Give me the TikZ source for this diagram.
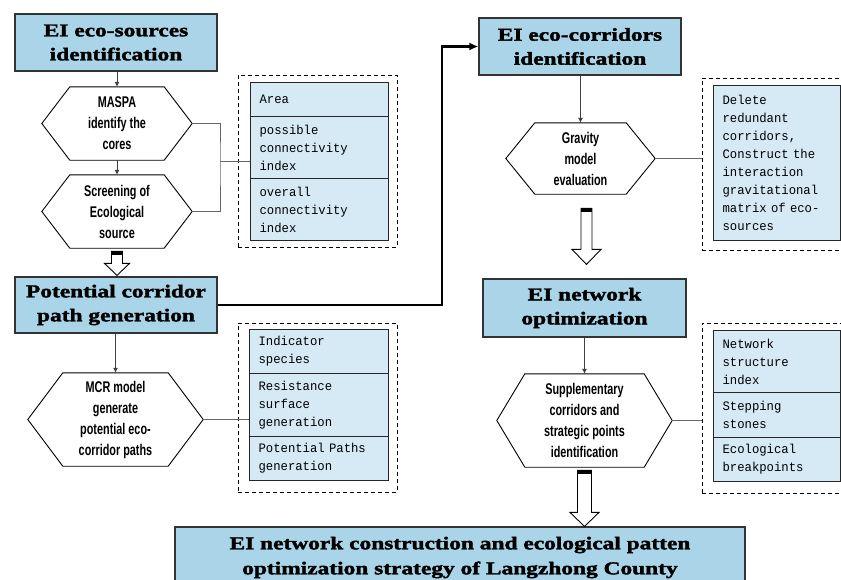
\documentclass[tikz,border=0pt]{standalone}
\usepackage{fontspec}
\setmainfont{Liberation Serif}
\newfontfamily\ttlfont[FakeStretch=1.3,FakeBold=2]{Liberation Serif}
\newfontfamily\hexfont[FakeStretch=0.7]{Liberation Sans}
\newfontfamily\tabfont[FakeStretch=0.95]{Liberation Mono}
\usetikzlibrary{arrows.meta,calc}
\definecolor{titleblue}{RGB}{170,213,233}
\definecolor{cellblue}{RGB}{214,234,246}
\newcommand{\hexat}[6]{%
  \node[hexnode, minimum width=#3pt, minimum height=#4pt] (#1) at #2 {#6};
  \draw[hexline] (#1.west) -- ([xshift=#5pt]#1.north west) -- ([xshift=-#5pt]#1.north east) -- (#1.east)
     -- ([xshift=-#5pt]#1.south east) -- ([xshift=#5pt]#1.south west) -- cycle;}
\newcommand{\hollowarr}[7]{%
  \draw[hollow] let \p1=(#1), \p2=(#2) in
    (\x1-#5pt,\y1-#3pt) -- (\x1+#5pt,\y1-#3pt) -- (\x1+#5pt,\y2+#4pt+#7pt) -- (\x1+#6pt,\y2+#4pt+#7pt)
    -- (\x1,\y2+#4pt) -- (\x1-#6pt,\y2+#4pt+#7pt) -- (\x1-#5pt,\y2+#4pt+#7pt) -- cycle;
  \fill let \p1=(#1) in (\x1-#5pt,\y1-#3pt) rectangle (\x1+#5pt,\y1-#3pt-4pt);}
\begin{document}
\begin{tikzpicture}[x=1pt,y=-1pt,
  titlebox/.style={draw=black!80, line width=1.2pt, fill=titleblue, align=center, inner sep=0pt,
    font=\ttlfont\bfseries\fontsize{18}{24}\selectfont},
  hexnode/.style={inner sep=0pt, align=center, font=\hexfont\bfseries\fontsize{15.5}{21}\selectfont},
  hexline/.style={draw=black, line width=0.9pt},
  cell/.style={draw=black!85, line width=1.2pt, fill=cellblue, anchor=north west, inner xsep=9pt,
    inner ysep=0pt, align=left, font=\tabfont\fontsize{12.9}{18}\selectfont},
  dashbox/.style={draw=black, line width=1pt, dash pattern=on 4pt off 3pt, inner sep=0pt},
  arr/.style={draw=black!75, line width=0.8pt, -{Latex[length=5pt,width=5pt]}},
  link/.style={draw=black!60, line width=0.8pt},
  bigarr/.style={draw=black, line width=2.5pt, -{Latex[length=9pt,width=8pt]}},
  hollow/.style={draw=black, line width=0.9pt, fill=white},
]
\useasboundingbox (0,0) rectangle (841,579);

% title boxes
\node[titlebox, minimum width=202pt, minimum height=57pt] (t1) at (116,42.5) {EI eco-sources\\identification};
\node[titlebox, minimum width=202pt, minimum height=56pt] (t2) at (116,305) {Potential corridor\\path generation};
\node[titlebox, minimum width=202pt, minimum height=57pt] (t3) at (580,46.5) {EI eco-corridors\\identification};
\node[titlebox, minimum width=203pt, minimum height=58pt] (t4) at (584.5,308) {EI network\\optimization};
\node[titlebox, minimum width=570pt, minimum height=83pt] (t5) at (460,568.5) {};
\node[align=center, inner sep=0pt, font=\ttlfont\bfseries\fontsize{18}{25}\selectfont] (t5txt) at (460,557.5)
  {EI network construction and ecological patten\\optimization strategy of Langzhong County};

% hexagons
\hexat{h1}{(117,123.5)}{150}{73}{28}{MASPA\\identify the\\cores}
\hexat{h2}{(117,211.5)}{150}{73}{28}{Screening of\\Ecological\\source}
\hexat{h4}{(115.5,419.5)}{175}{93}{35}{MCR model\\generate\\potential eco-\\corridor paths}
\hexat{h3}{(580.5,158.5)}{149}{71}{29}{Gravity\\model\\evaluation}
\hexat{h5}{(584.5,420.5)}{175}{93}{28}{Supplementary\\corridors and\\strategic points\\identification}

% dashed boxes
\node[dashbox, minimum width=159pt, minimum height=172pt] (d1) at (317.5,161) {};
\node[dashbox, minimum width=159pt, minimum height=169pt] (d2) at (317.5,407.5) {};
\node[dashbox, minimum width=168pt, minimum height=172pt] (d3) at (786,164) {};
\node[dashbox, minimum width=168pt, minimum height=170pt] (d4) at (786,408) {};

% tables
\node[cell, minimum width=138pt, minimum height=34pt, text width=120pt] (c11) at (250,82) {Area};
\node[cell, minimum width=138pt, minimum height=62pt, text width=120pt] (c12) at (250,116) {possible\\connectivity\\index};
\node[cell, minimum width=138pt, minimum height=62pt, text width=120pt] (c13) at (250,178) {overall\\connectivity\\index};

\node[cell, minimum width=139pt, minimum height=44pt, text width=121pt] (c21) at (249,329) {Indicator\\species};
\node[cell, minimum width=139pt, minimum height=63pt, text width=121pt] (c22) at (249,373) {Resistance\\surface\\generation};
\node[cell, minimum width=139pt, minimum height=44pt, text width=121pt] (c23) at (249,436) {Potential Paths\\generation};

\node[cell, minimum width=127pt, minimum height=155pt, text width=109pt] (c31) at (713,85)
  {Delete\\redundant\\corridors,\\Construct the\\interaction\\gravitational\\matrix of eco-\\sources};

\node[cell, minimum width=127pt, minimum height=62pt, text width=109pt] (c41) at (713,330) {Network\\structure\\index};
\node[cell, minimum width=127pt, minimum height=45pt, text width=109pt] (c42) at (713,392) {Stepping\\stones};
\node[cell, minimum width=127pt, minimum height=44pt, text width=109pt] (c43) at (713,437) {Ecological\\breakpoints};

% thin arrows
\draw[arr] (h1.north |- t1.south) -- (h1.north);
\draw[arr] (h1.south) -- (h2.north);
\draw[arr] (h4.north |- t2.south) -- (h4.north);
\draw[arr] (h3.north |- t3.south) -- (h3.north);
\draw[arr] (h5.north |- t4.south) -- (h5.north);

% links to tables
\coordinate (j1) at (220,161);
\draw[link] (h1.east) -| (j1) |- (h2.east);
\draw[link] (j1) -- (j1 -| c12.west);
\draw[link] (h4.east) -- (h4.east -| c22.west);
\draw[link] (h3.east) -- (h3.east -| d3.west);
\draw[link] (h5.east) -- (h5.east -| d4.west);

% thick connector
\coordinate (bend) at (442,0);
\draw[bigarr] (t2.east) -- (t2.east -| bend) |- (t3.west);

% hollow arrows
\hollowarr{h2.south}{t2.north}{3}{1}{5.5}{12.5}{12}
\hollowarr{[xshift=6pt]h3.south}{t4.north}{14}{14}{5.5}{14.5}{15}
\hollowarr{h5.south}{t5.north}{3}{0}{7}{14.5}{14}
\end{tikzpicture}
\end{document}
